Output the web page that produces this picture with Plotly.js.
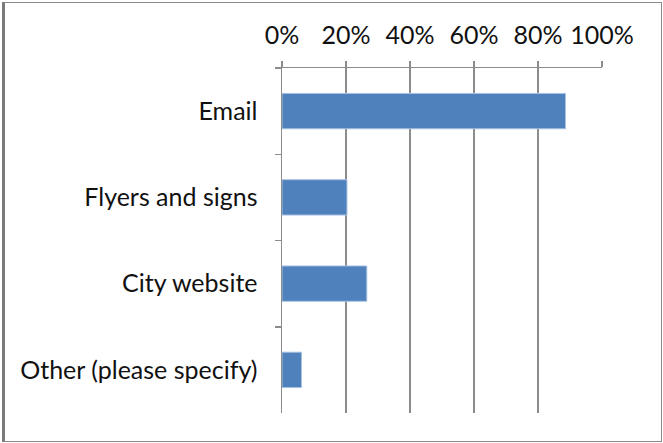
<!DOCTYPE html>
<html>
<head>
<meta charset="utf-8">
<script src="https://cdn.plot.ly/plotly-3.0.1.min.js"></script>
<style>
  html, body { margin: 0; padding: 0; background: #fff; }
  #wrap { position: relative; width: 663px; height: 443px; }
  #chart { width: 663px; height: 443px; }
  #frame { position: absolute; left: 2px; top: 2px; width: 656px; height: 438px;
           border: 1.5px solid #8a8a8a; border-left: 3px solid #7a7a7a; pointer-events: none; box-sizing: content-box; }
</style>
</head>
<body>
<div id="wrap">
  <div id="chart"></div>
  <div id="frame"></div>
</div>
<script>
const categories = ["Email", "Flyers and signs", "City website", "Other (please specify)"];
const values = [0.886, 0.203, 0.265, 0.061];
const tickValues = [0, 0.2, 0.4, 0.6, 0.8, 1.0];
const tickLabels = ["0%", "20%", "40%", "60%", "80%", "100%"];

const trace = {
  type: "bar",
  orientation: "h",
  y: categories,
  x: values,
  marker: { color: "#4f81bd", line: { color: "#a9c2e2", width: 1 } },
  hoverinfo: "none"
};

const layout = {
  width: 663,
  height: 443,
  margin: { l: 282, r: 61, t: 68, b: 30 },
  paper_bgcolor: "#ffffff",
  plot_bgcolor: "#ffffff",
  font: { family: "Lato, 'Open Sans', sans-serif", size: 25, color: "#111111" },
  showlegend: false,
  bargap: 0.59,
  xaxis: {
    side: "top",
    range: [0, 1],
    tickvals: tickValues,
    ticktext: tickLabels,
    showgrid: true,
    gridcolor: "#8c8c8c",
    gridwidth: 1.5,
    showline: true,
    linecolor: "#8c8c8c",
    linewidth: 1.5,
    ticks: "outside",
    ticklen: 6,
    tickwidth: 1.5,
    tickcolor: "#8c8c8c",
    ticklabelstandoff: 7,
    zeroline: false,
    fixedrange: true
  },
  yaxis: {
    autorange: "reversed",
    type: "category",
    showgrid: false,
    showline: true,
    linecolor: "#8c8c8c",
    linewidth: 1.5,
    ticks: "outside",
    tickson: "boundaries",
    ticklen: 6,
    tickwidth: 1.5,
    tickcolor: "#8c8c8c",
    ticklabelstandoff: 18,
    zeroline: false,
    fixedrange: true
  }
};

Plotly.newPlot("chart", [trace], layout, { staticPlot: true, displayModeBar: false });
</script>
</body>
</html>
